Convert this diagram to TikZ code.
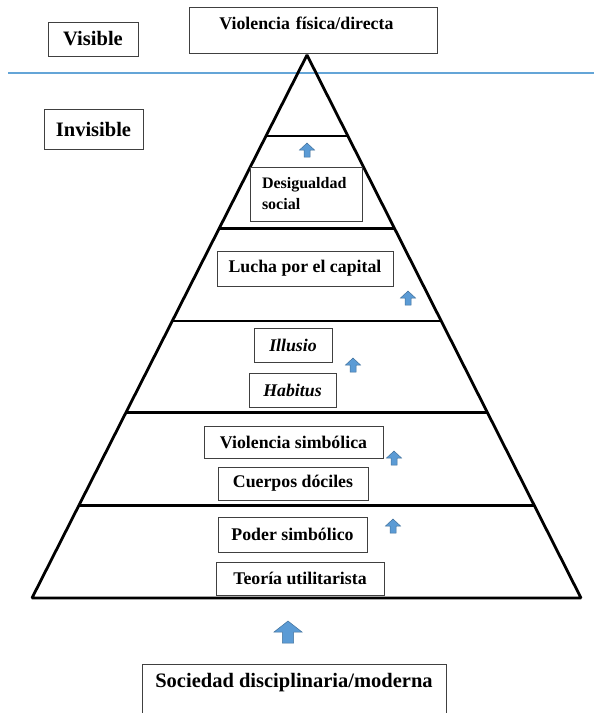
\documentclass[tikz,border=0pt]{standalone}
\usepackage{fontspec}
\setmainfont{Liberation Serif}
\usetikzlibrary{calc}

\definecolor{azul}{RGB}{91,155,213}
\definecolor{azulborde}{RGB}{65,113,156}
\definecolor{linea}{RGB}{100,165,215}

\newcommand*\letragrande{\fontsize{20.5}{24}\selectfont}
\newcommand*\letranormal{\fontsize{17.8}{21}\selectfont}
\newcommand*\letrachica{\fontsize{16}{21}\selectfont}

% small block arrow pointing up: x, y (bottom centre), xscale, yscale
\newcommand*\flecha[4]{
    \begin{scope}[shift={(#1,#2)},xscale=#3,yscale=#4]
        \filldraw[fill=azul,draw=azulborde,line width=0.5pt]
            (-3,0) -- (3,0) -- (3,-7) -- (7.5,-7) -- (0,-14)
            -- (-7.5,-7) -- (-3,-7) -- cycle;
    \end{scope}
}

\tikzset{caja/.style 2 args={
    draw=black!75,
    line width=0.8pt,
    fill=white,
    inner sep=0pt,
    minimum width=#1,
    minimum height=#2,
    font=\bfseries\letranormal
}}
\tikzset{piso/.style={line width=2.8pt, line join=bevel}}

\begin{document}
\begin{tikzpicture}[x=1pt,y=-1pt]

    \useasboundingbox (0,0) rectangle (594,713);
    \clip (0,0) rectangle (594,713);

    % The line between visible and invisible.
    \draw[linea, line width=1.1pt] (8,73) -- (594,73);

    % Draw the pyramid.
    \coordinate (apex) at (307,55);
    \coordinate (izq) at (32,598);
    \coordinate (der) at (581,598);
    \draw[piso] (izq) -- (apex) -- (der) -- cycle;

    % Draw the floors.
    \foreach \t in {0.149,0.320,0.490,0.659,0.829}
        \draw[piso] ($(apex)!\t!(izq)$) -- ($(apex)!\t!(der)$);

    % Labels on the left.
    \node[caja={90pt}{34pt}, font=\bfseries\letragrande] (visible) at (93,39) {Visible};
    \node[caja={99pt}{40pt}, font=\bfseries\letragrande] (invisible) at (93.5,129) {Invisible};

    % Top of the pyramid.
    \node[caja={248pt}{46pt}, anchor=north west, text width=188pt, align=left,
        inner xsep=30pt, text height=22pt, text depth=24pt] (fisica) at (189,7)
        {Violencia física/directa};

    % Floors, from top to bottom.
    \node[caja={112pt}{54pt}, text width=88pt, align=left, font=\bfseries\letrachica]
        (desigualdad) at (306,194) {Desigualdad\\social};
    \node[caja={176pt}{35pt}] (lucha) at (305,268.5) {Lucha por el capital};
    \node[caja={78pt}{34pt}, font=\bfseries\itshape\letranormal] (illusio) at (293,345) {Illusio};
    \node[caja={87pt}{34pt}, font=\bfseries\itshape\letranormal] (habitus) at (292.5,390) {Habitus};
    \node[caja={179pt}{32pt}] (vsimbolica) at (293.5,442) {Violencia simbólica};
    \node[caja={150pt}{33pt}] (cuerpos) at (293,483.5) {Cuerpos dóciles};
    \node[caja={149pt}{35pt}] (poder) at (292.5,534.5) {Poder simbólico};
    \node[caja={168pt}{33pt}] (teoria) at (300,578.5) {Teoría utilitarista};

    % Base below the pyramid.
    \node[caja={304pt}{60pt}, anchor=north, font=\bfseries\letragrande,
        text height=23pt, text depth=37pt] (sociedad) at (294,664)
        {Sociedad disciplinaria/moderna};

    % Arrows.
    \flecha{307}{157}{1}{1}
    \flecha{408}{305}{1}{1}
    \flecha{353}{372}{1}{1}
    \flecha{394}{465}{1}{1}
    \flecha{393}{533}{1}{1}
    \flecha{288}{643}{1.87}{1.57}

\end{tikzpicture}
\end{document}
